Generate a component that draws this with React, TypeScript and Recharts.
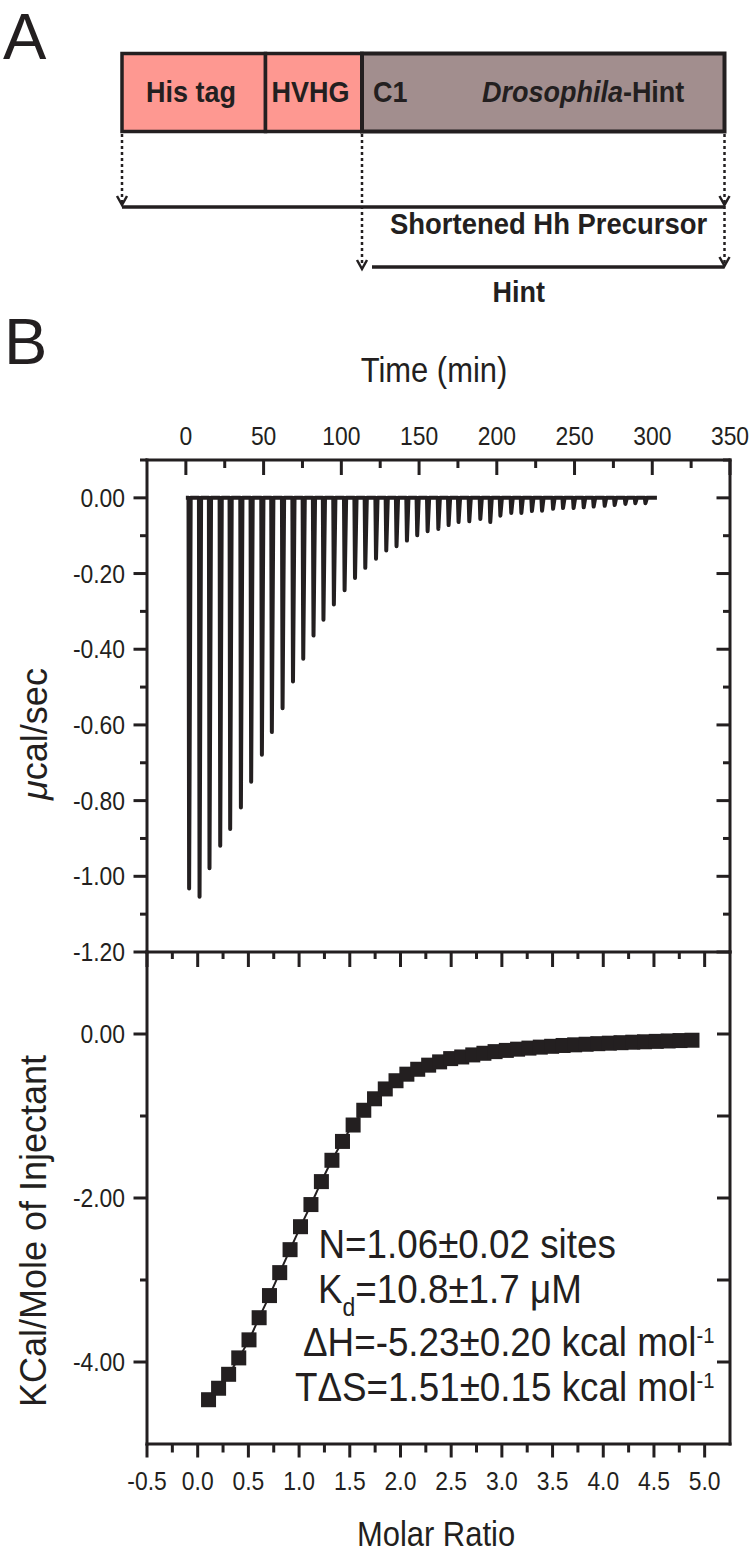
import React from 'react';
import { LineChart, Line, XAxis, YAxis } from 'recharts';

const INK = '#231f20';
const FONT = '"Liberation Sans", Arial, Helvetica, sans-serif';

// raw thermogram: injection times (min) and peak power (ucal/sec)
const INJECTION_TIMES = [
  2.1, 8.8, 15.2, 22.1, 28.5, 35.4, 42.0, 48.9, 55.3, 62.2,
  68.9, 75.5, 82.1, 88.5, 95.2, 102.1, 108.8, 115.4, 122.3, 128.9,
  135.5, 142.2, 148.8, 155.5, 162.4, 169.0, 175.4, 182.3, 189.4, 195.8,
  202.3, 209.3, 215.8, 222.6, 229.1, 236.2, 242.6, 249.4, 255.9, 262.3,
  269.4, 275.8, 282.7, 289.1, 295.6,
];
const PEAK_POWER = [
  -1.032, -1.054, -0.979, -0.919, -0.875, -0.818, -0.75, -0.679, -0.619, -0.556,
  -0.485, -0.425, -0.364, -0.322, -0.282, -0.244, -0.212, -0.185, -0.161, -0.139,
  -0.128, -0.113, -0.099, -0.088, -0.082, -0.072, -0.064, -0.062, -0.056, -0.064,
  -0.047, -0.04, -0.04, -0.035, -0.034, -0.029, -0.027, -0.027, -0.025, -0.023,
  -0.021, -0.019, -0.016, -0.014, -0.014,
];
const TIME_TICKS = [0, 25, 50, 75, 100, 125, 150, 175, 200, 225, 250, 275, 300, 325, 350];
const POWER_TICKS = [-1.2, -1.1, -1.0, -0.9, -0.8, -0.7, -0.6, -0.5, -0.4, -0.3, -0.2, -0.1, 0, 0.1];

// integrated heats
const MOLAR_RATIO = [
  0.107, 0.206, 0.305, 0.405, 0.506, 0.606, 0.708, 0.809, 0.911, 1.014,
  1.117, 1.22, 1.324, 1.428, 1.533, 1.638, 1.744, 1.85, 1.956, 2.063,
  2.17, 2.278, 2.386, 2.495, 2.604, 2.713, 2.823, 2.933, 3.044, 3.155,
  3.267, 3.379, 3.491, 3.604, 3.718, 3.831, 3.946, 4.06, 4.175, 4.291,
  4.407, 4.523, 4.64, 4.757, 4.875,
];
const HEAT = [
  -4.46, -4.32, -4.15, -3.95, -3.73, -3.46, -3.19, -2.91, -2.63, -2.35,
  -2.08, -1.8, -1.54, -1.31, -1.11, -0.93, -0.79, -0.67, -0.57, -0.49,
  -0.43, -0.38, -0.34, -0.3, -0.28, -0.255, -0.235, -0.215, -0.2, -0.185,
  -0.172, -0.16, -0.15, -0.14, -0.132, -0.125, -0.118, -0.112, -0.106, -0.1,
  -0.095, -0.09, -0.085, -0.08, -0.076,
];
const RATIO_TICKS = [
  -0.5, -0.25, 0, 0.25, 0.5, 0.75, 1, 1.25, 1.5, 1.75, 2, 2.25, 2.5,
  2.75, 3, 3.25, 3.5, 3.75, 4, 4.25, 4.5, 4.75, 5,
];
const HEAT_TICKS = [-4, -3, -2, -1, 0];

const trace: { t: number; p: number }[] = [{ t: 0, p: 0 }];
INJECTION_TIMES.forEach((t, i) => {
  trace.push({ t: t - 0.4, p: 0 }, { t, p: PEAK_POWER[i] }, { t: t + 1.0, p: 0 });
});
trace.push({ t: 303, p: 0 });

const isoData = MOLAR_RATIO.map((x, i) => ({ x, h: HEAT[i] }));

const axisLine = { stroke: INK, strokeWidth: 3, strokeLinecap: 'square' as const };

// narrow-ish text: the figure's lettering is a bit condensed
const SText = ({ x, y, size, sx = 0.88, anchor = 'start', children, ...rest }: any) => (
  <text
    transform={`translate(${x} ${y}) scale(${sx} 1)`}
    fontSize={size}
    textAnchor={anchor}
    fontFamily={FONT}
    fill={INK}
    {...rest}
  >
    {children}
  </text>
);

const TimeTick = ({ x, y, payload }: any) => {
  const major = payload.value % 50 === 0;
  return (
    <g>
      <line x1={x} y1={y} x2={x} y2={y + (major ? 15 : 8)} stroke={INK} strokeWidth={3} />
      {major && (
        <SText x={x} y={y - 15} size={26} anchor="middle">
          {payload.value}
        </SText>
      )}
    </g>
  );
};

const PowerTick = ({ x, y, payload }: any) => {
  const v = payload.value;
  const major = Math.round(v * 10) % 2 === 0;
  return (
    <g>
      <line x1={x - (major ? 13.5 : 7)} y1={y} x2={x} y2={y} stroke={INK} strokeWidth={3} />
      {major && v < 0.05 && (
        <SText x={x - 22} y={y + 9} size={26} anchor="end">
          {v.toFixed(2)}
        </SText>
      )}
    </g>
  );
};

const PowerTickRight = ({ x, y, payload }: any) => {
  const major = Math.round(payload.value * 10) % 2 === 0;
  return <line x1={x - (major ? 13.5 : 7)} y1={y} x2={x} y2={y} stroke={INK} strokeWidth={3} />;
};

const RatioTick = ({ x, y, payload }: any) => {
  const v = payload.value;
  const major = Math.round(v * 4) % 2 === 0;
  return (
    <g>
      <line x1={x} y1={y} x2={x} y2={y + (major ? 13.5 : 8.5)} stroke={INK} strokeWidth={3} />
      {major && (
        <SText x={x} y={y + 46} size={26} anchor="middle">
          {v.toFixed(1)}
        </SText>
      )}
    </g>
  );
};

const RatioTickTop = ({ x, y, payload }: any) => {
  const major = Math.round(payload.value * 4) % 2 === 0;
  return <line x1={x} y1={y} x2={x} y2={y + (major ? 15 : 7)} stroke={INK} strokeWidth={3} />;
};

const HeatTick = ({ x, y, payload }: any) => {
  const v = payload.value;
  const major = v % 2 === 0;
  return (
    <g>
      <line x1={x - (major ? 13.5 : 7)} y1={y} x2={x} y2={y} stroke={INK} strokeWidth={3} />
      {major && (
        <SText x={x - 22} y={y + 9} size={26} anchor="end">
          {v.toFixed(2)}
        </SText>
      )}
    </g>
  );
};

const HeatTickRight = ({ x, y }: any) => (
  <line x1={x - 13} y1={y} x2={x} y2={y} stroke={INK} strokeWidth={3} />
);

const renderSquare = (p: any) => (
  <rect key={`sq-${p.index}`} x={p.cx - 7.5} y={p.cy - 7.5} width={15} height={15} fill={INK} />
);

const Arrow = ({ x, y }: { x: number; y: number }) => (
  <path d={`M${x - 5},${y - 9} L${x},${y} L${x + 5},${y - 9}`} fill="none" stroke={INK} strokeWidth={2.5} />
);

const PanelA = () => (
  <g fontFamily={FONT} fill={INK}>
    <text x={3} y={59} fontSize={65}>A</text>
    <rect x={122} y={53.5} width={143.5} height={78} fill="#fe9891" stroke={INK} strokeWidth={3.5} />
    <rect x={265.5} y={53.5} width={96.5} height={78} fill="#fe9891" stroke={INK} strokeWidth={3.5} />
    <rect x={362} y={53.5} width={362.5} height={78} fill="#a28e8e" stroke={INK} strokeWidth={4} />
    <g fontWeight="bold">
      <SText x={146} y={101.5} size={30} sx={0.9}>His tag</SText>
      <SText x={271.5} y={101.5} size={30} sx={0.9}>HVHG</SText>
      <SText x={373} y={101.5} size={30} sx={0.9}>C1</SText>
      <SText x={482} y={101.5} size={30} sx={0.9}>
        <tspan fontStyle="italic">Drosophila</tspan>-Hint
      </SText>
      <SText x={390} y={233.5} size={30} sx={0.915}>Shortened Hh Precursor</SText>
      <SText x={492.5} y={301.5} size={30} sx={0.9}>Hint</SText>
    </g>
    <g stroke={INK} strokeWidth={2.5} strokeDasharray="3 3">
      <line x1={122} y1={134} x2={122} y2={203} />
      <line x1={362} y1={134} x2={362} y2={266} />
      <line x1={724.5} y1={134} x2={724.5} y2={264} />
    </g>
    <Arrow x={122} y={205} />
    <Arrow x={362} y={269} />
    <Arrow x={724.5} y={205} />
    <Arrow x={724.5} y={266} />
    <line x1={122} y1={207} x2={724.5} y2={207} stroke={INK} strokeWidth={3.5} />
    <line x1={372} y1={267} x2={724.5} y2={267} stroke={INK} strokeWidth={3.5} />
    <text x={4} y={364} fontSize={65}>B</text>
  </g>
);

const Labels = () => (
  <g fontFamily={FONT} fill={INK}>
    <SText x={434} y={381.5} size={36} sx={0.86} anchor="middle">Time (min)</SText>
    <text transform="translate(47,734) rotate(-90)" fontSize={36} textAnchor="middle">
      <tspan fontStyle="italic">μ</tspan>cal/sec
    </text>
    <text transform="translate(46,1231) rotate(-90)" fontSize={36} textAnchor="middle">
      KCal/Mole of Injectant
    </text>
    <SText x={436} y={1546} size={36} sx={0.86} anchor="middle">Molar Ratio</SText>
    <SText x={318.5} y={1258} size={40} sx={0.92}>N=1.06±0.02 sites</SText>
    <SText x={318} y={1302.5} size={40} sx={0.92}>
      K<tspan fontSize={25} dy={13}>d</tspan>
      <tspan dy={-13}>=10.8±1.7 μM</tspan>
    </SText>
    <SText x={303} y={1355.5} size={40} sx={0.92}>
      ΔH=-5.23±0.20 kcal mol<tspan fontSize={22} dy={-13}>-1</tspan>
    </SText>
    <SText x={295} y={1400.5} size={40} sx={0.92}>
      TΔS=1.51±0.15 kcal mol<tspan fontSize={22} dy={-13}>-1</tspan>
    </SText>
  </g>
);

export default function App() {
  return (
    <div style={{ position: 'absolute', left: 0, top: 0, width: 750, height: 1560, background: '#fff', overflow: 'hidden' }}>
      <div style={{ position: 'absolute', left: 0, top: 380 }}>
        <LineChart width={750} height={592} data={trace} margin={{ top: 60, right: 19, bottom: 20, left: 0 }}>
          <XAxis
            dataKey="t"
            type="number"
            orientation="top"
            height={20}
            domain={[-25, 350]}
            allowDataOverflow
            ticks={TIME_TICKS}
            interval={0}
            tickSize={0}
            tickMargin={0}
            tickLine={false}
            axisLine={axisLine}
            tick={TimeTick}
          />
          <YAxis
            type="number"
            width={147}
            domain={[-1.2, 0.1]}
            allowDataOverflow
            ticks={POWER_TICKS}
            interval={0}
            tickSize={0}
            tickMargin={0}
            tickLine={false}
            axisLine={axisLine}
            tick={PowerTick}
          />
          <YAxis
            yAxisId="r"
            orientation="right"
            type="number"
            width={1}
            domain={[-1.2, 0.1]}
            allowDataOverflow
            ticks={POWER_TICKS}
            interval={0}
            tickSize={0}
            tickMargin={0}
            tickLine={false}
            axisLine={axisLine}
            tick={PowerTickRight}
          />
          <Line
            dataKey="p"
            type="linear"
            stroke={INK}
            strokeWidth={4}
            strokeLinejoin="round"
            dot={false}
            isAnimationActive={false}
          />
        </LineChart>
      </div>
      <div style={{ position: 'absolute', left: 0, top: 930 }}>
        <LineChart width={750} height={600} data={isoData} margin={{ top: 2, right: 19, bottom: 66, left: 0 }}>
          <XAxis
            dataKey="x"
            type="number"
            orientation="bottom"
            height={20}
            domain={[-0.5, 5.25]}
            allowDataOverflow
            ticks={RATIO_TICKS}
            interval={0}
            tickSize={0}
            tickMargin={0}
            tickLine={false}
            axisLine={axisLine}
            tick={RatioTick}
          />
          <XAxis
            xAxisId="t"
            dataKey="x"
            type="number"
            orientation="top"
            height={20}
            domain={[-0.5, 5.25]}
            allowDataOverflow
            ticks={RATIO_TICKS}
            interval={0}
            tickSize={0}
            tickMargin={0}
            tickLine={false}
            axisLine={axisLine}
            tick={RatioTickTop}
          />
          <YAxis
            type="number"
            width={147}
            domain={[-5, 1]}
            allowDataOverflow
            ticks={HEAT_TICKS}
            interval={0}
            tickSize={0}
            tickMargin={0}
            tickLine={false}
            axisLine={axisLine}
            tick={HeatTick}
          />
          <YAxis
            yAxisId="r"
            orientation="right"
            type="number"
            width={1}
            domain={[-5, 1]}
            allowDataOverflow
            ticks={HEAT_TICKS}
            interval={0}
            tickSize={0}
            tickMargin={0}
            tickLine={false}
            axisLine={axisLine}
            tick={HeatTickRight}
          />
          <Line
            dataKey="h"
            type="monotone"
            stroke={INK}
            strokeWidth={2}
            dot={renderSquare}
            isAnimationActive={false}
          />
        </LineChart>
      </div>
      <svg width={750} height={1560} style={{ position: 'absolute', left: 0, top: 0, pointerEvents: 'none' }}>
        <PanelA />
        <Labels />
      </svg>
    </div>
  );
}
